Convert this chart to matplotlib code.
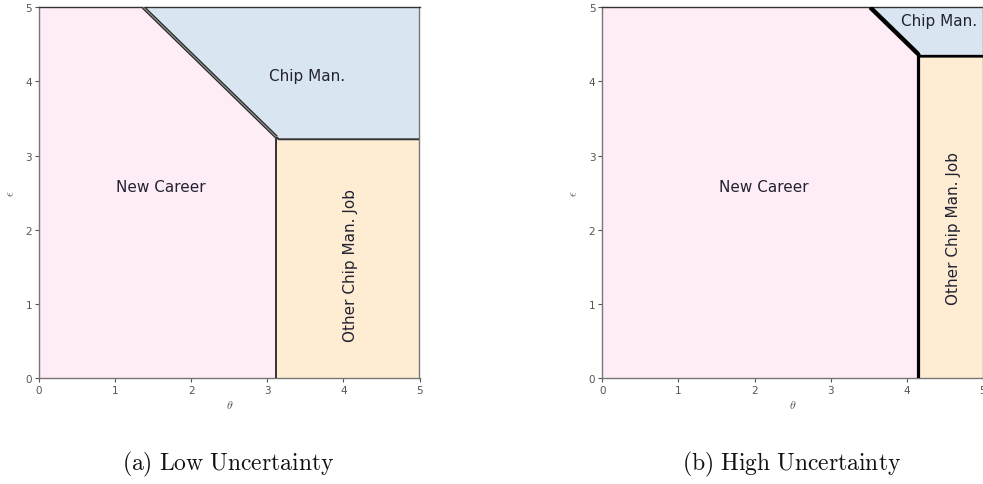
import numpy as np
import matplotlib
matplotlib.use("Agg")
import matplotlib.pyplot as plt
from matplotlib.colors import ListedColormap

plt.rcParams["mathtext.fontset"] = "cm"

# Decision thresholds for each scenario
# theta_cut: vertical boundary (New Career | Other Chip Man. Job)
# eps_cut:   horizontal boundary (Other Chip Man. Job | Chip Man.)
# sum_cut:   diagonal boundary theta + eps = const (New Career | Chip Man.)
scenarios = ["(a) Low Uncertainty", "(b) High Uncertainty"]
theta_cut = [3.12, 4.15]
eps_cut = [3.22, 4.34]
sum_cut = [6.37, 8.52]

region_names = ["New Career", "Other Chip Man. Job", "Chip Man."]
region_colors = ["#feedf6", "#feecd3", "#d9e6f1"]

# Label anchors (theta, eps) for each region, per scenario
label_theta = [[1.60, 4.09, 3.52], [2.12, 4.61, 4.43]]
label_eps = [[2.58, 1.53, 4.08], [2.58, 2.03, 4.82]]

W, H = 983, 485
fig = plt.figure(figsize=(W / 100, H / 100), dpi=100)

axes_px = [(39, 8.3, 380.5, 370.7), (602.3, 8.3, 380.5, 370.7)]

grid = np.linspace(0, 5, 801)
TH, EP = np.meshgrid(grid, grid)

for i, (x0, y0, w, h) in enumerate(axes_px):
    ax = fig.add_axes([x0 / W, 1 - (y0 + h) / H, w / W, h / H])
    a, b, c = theta_cut[i], eps_cut[i], sum_cut[i]

    # 0 = New Career, 1 = Other Chip Man. Job, 2 = Chip Man.
    choice = np.where(
        (TH < a) & (TH + EP < c), 0,
        np.where((EP < b) & (TH >= a), 1, 2)
    )
    ax.contourf(TH, EP, choice, levels=[-0.5, 0.5, 1.5, 2.5],
                cmap=ListedColormap(region_colors))

    # Boundaries between regions
    corner_eps = c - a
    corner_theta = c - b
    if i == 0:
        ax.plot([c - 5, a], [5, corner_eps], color="#222222", lw=2.6,
                solid_capstyle="butt", zorder=3)
        ax.plot([c - 5, a], [5, corner_eps], color="#8a8a8a", lw=1.0,
                solid_capstyle="butt", zorder=4)
        ax.plot([a, a], [0, corner_eps], color="#333333", lw=1.4, zorder=3)
        ax.plot([a, corner_theta, 5], [corner_eps, b, b], color="#333333",
                lw=1.4, zorder=3)
    else:
        ax.plot([c - 5, a], [5, corner_eps], color="black", lw=3.2,
                solid_capstyle="butt", zorder=3)
        ax.plot([a, a], [0, corner_eps], color="black", lw=2.3, zorder=3)
        ax.plot([a, corner_theta, 5], [corner_eps, b, b], color="black",
                lw=2.0, zorder=3)

    for k, name in enumerate(region_names):
        ax.text(label_theta[i][k], label_eps[i][k], name,
                ha="center", va="center", fontsize=11, color="#222233",
                rotation=90 if k == 1 else 0, zorder=5)

    ax.set_xlim(0, 5)
    ax.set_ylim(0, 5)
    ax.set_xticks(range(6))
    ax.set_yticks(range(6))
    ax.tick_params(labelsize=7.5, colors="#555555", length=3, width=0.8,
                   pad=2)
    for s in ax.spines.values():
        s.set_color("#777777")
        s.set_linewidth(1.0)
    ax.spines["top"].set_color("#333333")
    ax.set_xlabel(r"$\theta$", fontsize=8.5, color="#555555", labelpad=2)
    ax.set_ylabel(r"$\epsilon$", fontsize=9, color="#555555", labelpad=6)

    fig.text((x0 + w / 2 - 1) / W, 1 - 464 / H,
             r"$\mathrm{" + scenarios[i].replace(" ", r"\ ") + "}$",
             ha="center", va="center", fontsize=17, color="#111111")

fig.savefig("out.png", dpi=100)
